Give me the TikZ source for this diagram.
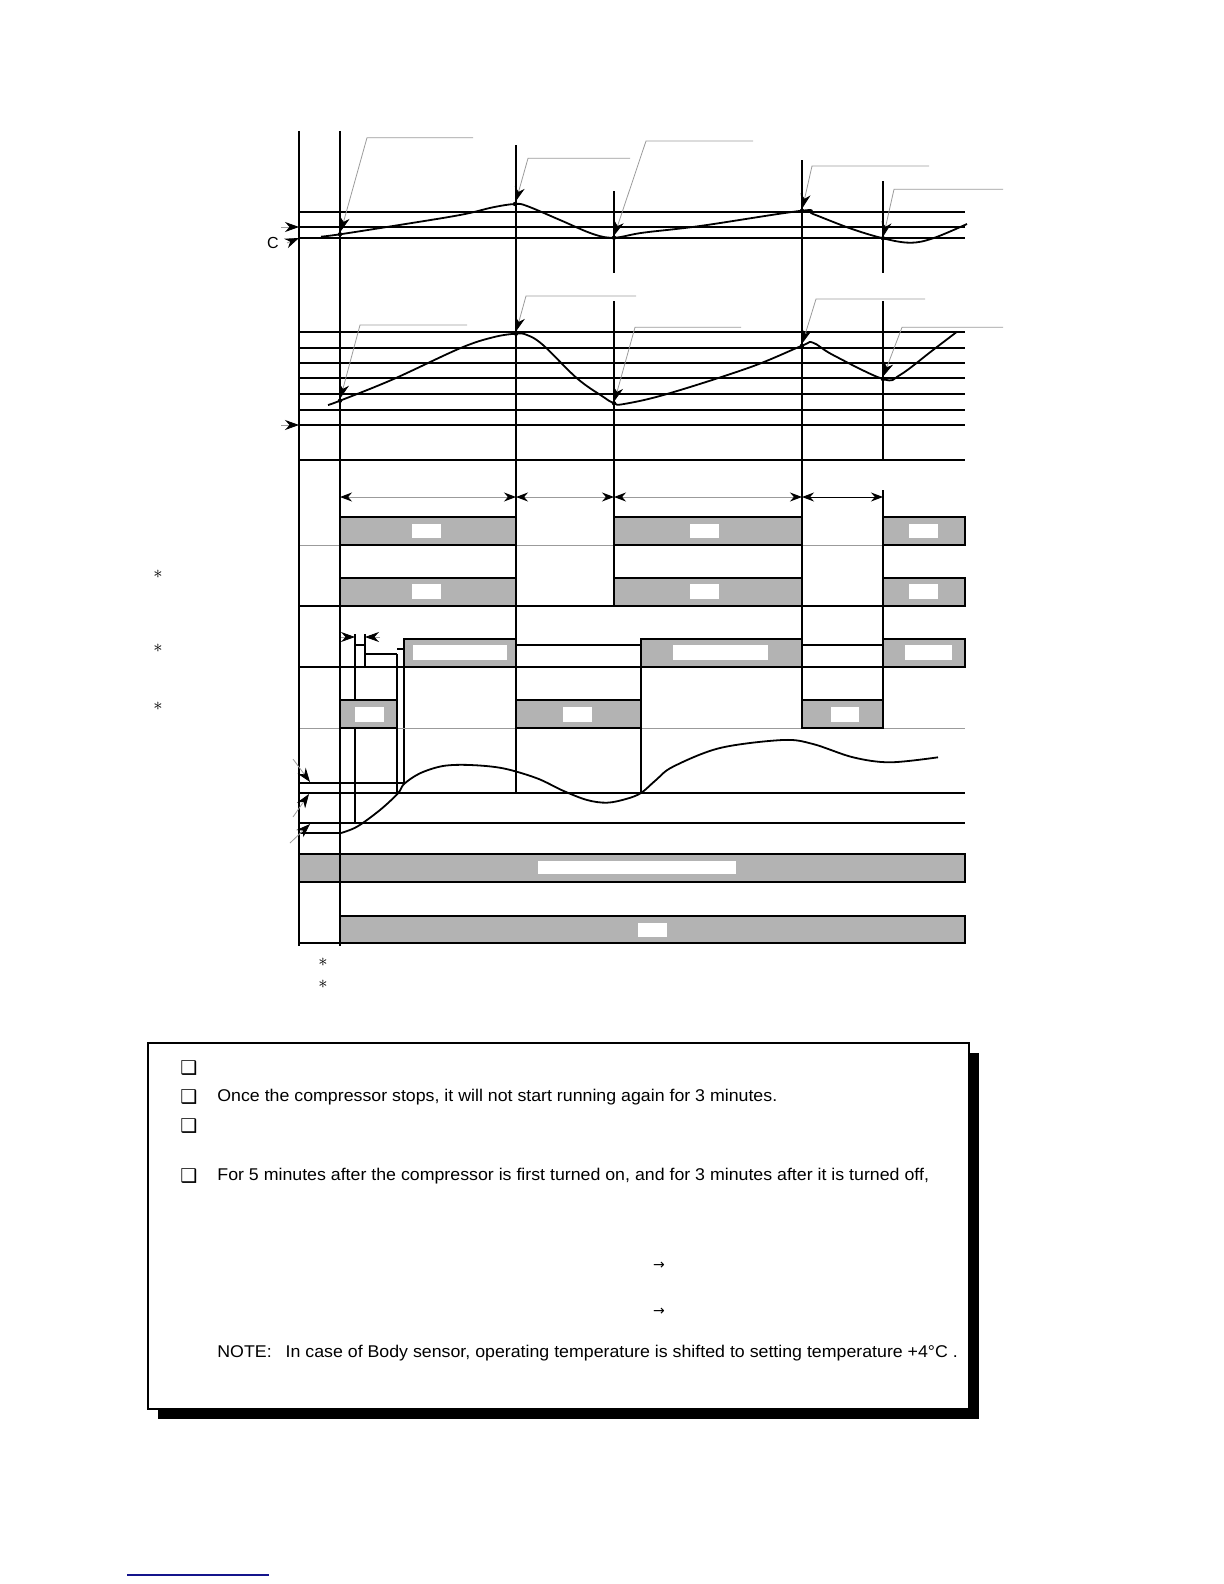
\documentclass[tikz,border=0pt]{standalone}
\usepackage{fontspec}
\setmainfont{Liberation Sans}
\newfontfamily\symfont{DejaVu Sans}
\newfontfamily\notefont[FakeStretch=1.045]{Liberation Sans}
\usetikzlibrary{arrows.meta}
\definecolor{barfill}{RGB}{179,179,179}
\definecolor{leadgray}{RGB}{155,155,155}
\definecolor{linkblue}{RGB}{20,20,140}
\tikzset{
  grid/.style={line width=0.6pt},
  curve/.style={line width=0.9pt},
  lead/.style={leadgray, line width=0.4pt, -{Stealth[length=7pt,width=5pt,color=black]}},
  span/.style={leadgray, line width=0.5pt, {Stealth[length=6pt,width=4.5pt,color=black]}-{Stealth[length=6pt,width=4.5pt,color=black]}},
  bar/.style={draw=black, fill=barfill, line width=0.6pt},
  hole/.style={fill=white},
  star/.style={inner sep=0pt, font=\fontsize{9.5}{9.5}\selectfont},
  txt/.style={anchor=west, inner sep=0pt, font=\notefont\fontsize{8.5}{10}\selectfont}
}
\begin{document}
\begin{tikzpicture}[x=0.5pt, y=-0.5pt, every node/.style={font=\fontsize{8}{10}\selectfont}]
  \useasboundingbox (0,0) rectangle (1224,1584);

  % time marks
  \draw[grid] (516,145) -- (516,793);
  \draw[grid] (614,191) -- (614,273) (614,301) -- (614,606);
  \draw[grid] (802,160) -- (802,728);
  \draw[grid] (883,181) -- (883,273) (883,301) -- (883,460) (883,490) -- (883,728);
  \draw[grid] (641,639) -- (641,793);
  \draw[grid] (355,634) -- (355,823) (365,634) -- (365,667);
  \draw[grid] (397,654) -- (397,793) (404,649) -- (404,783);

  % level lines
  \foreach \y in {212,227,238,332,348,363,378,394,410,425,460,606,667,793,823}
    \draw[grid] (299,\y) -- (965,\y);
  \foreach \y in {545,728}
    \draw[leadgray, line width=0.5pt] (299,\y) -- (965,\y);
  \draw[grid] (299,783) -- (404,783) (299,833) -- (340,833) (299,943) -- (340,943);
  \draw[grid] (355,645) -- (365,645) (365,654) -- (397,654) (397,649) -- (404,649);
  \draw[grid] (516,645) -- (641,645) (802,645) -- (883,645);

  % on/off bars
  \foreach \a/\b in {340/516,614/802,883/965} {
    \draw[bar] (\a,517) rectangle (\b,545);
    \draw[bar] (\a,578) rectangle (\b,606);
  }
  \foreach \a/\b in {404/516,641/802,883/965}
    \draw[bar] (\a,639) rectangle (\b,667);
  \foreach \a/\b in {340/397,516/641,802/883}
    \draw[bar] (\a,700) rectangle (\b,728);
  \draw[bar] (299,854) rectangle (965,882);
  \draw[bar] (340,916) rectangle (965,943);

  \foreach \a/\b in {412/441,690/719,909/938} {
    \fill[hole] (\a,524) rectangle (\b,538);
    \fill[hole] (\a,584) rectangle (\b,599);
  }
  \fill[hole] (413,645) rectangle (507,660);
  \fill[hole] (673,645) rectangle (768,660);
  \fill[hole] (905,645) rectangle (952,660);
  \foreach \a/\b in {355/384,563/592,831/859}
    \fill[hole] (\a,707) rectangle (\b,722);
  \fill[hole] (538,861) rectangle (736,874);
  \fill[hole] (638,923) rectangle (667,937);

  \draw[grid] (299,131) -- (299,946);
  \draw[grid] (340,131) -- (340,946);

  % intervals
  \draw[span] (340,497) -- (516,497);
  \draw[span] (516,497) -- (614,497);
  \draw[span] (614,497) -- (802,497);
  \draw[span, draw=black] (802,497) -- (883,497);
  \draw[lead] (341,637) -- (355,637);
  \draw[lead] (380,637) -- (365,637);

  % pointers on the left
  \draw[lead] (281,227) -- (299,227);
  \draw[lead] (287,243) -- (299,238);
  \draw[lead] (281,425) -- (299,425);
  \draw[lead] (293,759) -- (310,782);
  \draw[lead] (293,817) -- (309,794);
  \draw[lead] (290,843) -- (310,824);
  \node (c) at (273,243) {C};

  % room temperature
  \draw[curve] plot[smooth, tension=0.6] coordinates {
    (321,236.7) (340,234.3) (393,226) (460,215) (493,207.3) (515,204) (527,206)
    (560,220) (593,234) (614,237.7) (643,232.7) (700,226) (802,210.7) (813,214)
    (850,228.3) (883,238.3) (910,242.7) (933,238.3) (967,224)};
  \foreach \p in {(340,234.3),(515,204),(614,237.7),(802,210.7),(883,238.3)}
    \fill \p circle (2.2);

  % pipe temperature
  \draw[curve] plot[smooth, tension=0.6] coordinates {
    (328,405) (340,400.7) (393,379.3) (460,348.3) (493,337.3) (516,333.7) (527,335)
    (543,345) (577,378.3) (603,396.7) (614,403.3) (624,404) (667,394) (750,367.3)
    (802,345.7) (813,342.7) (833,355) (883,379) (900,375) (933,350) (957,331.7)};
  \foreach \p in {(340,400.7),(516,333.7),(614,403.3),(802,345.7),(883,379)}
    \fill \p circle (2.2);

  % discharge temperature
  \draw[curve] plot[smooth, tension=0.55] coordinates {
    (340,833.3) (357,826.7) (380,810) (398,793.3) (404,784) (420,773.3) (443,766)
    (470,765) (503,768.3) (537,778.3) (563,790.7) (587,800) (607,802.7) (626,799)
    (641,793) (656,780) (673,766.7) (720,748) (783,740) (813,744) (853,757.3)
    (890,762.3) (938,757.3)};

  % callouts
  \draw[lead] (473,137.7) -- (367,137.7) -- (341,231);
  \draw[lead] (630,158.3) -- (528,158.3) -- (516,201);
  \draw[lead] (753,141) -- (646,141) -- (614.5,235);
  \draw[lead] (929,166) -- (812,166) -- (802.5,208);
  \draw[lead] (1003,189.3) -- (894,189.3) -- (883.5,236);
  \draw[lead] (467,325) -- (360,325) -- (340.5,398);
  \draw[lead] (636,296) -- (526,296) -- (516.3,331);
  \draw[lead] (741,327.3) -- (635,327.3) -- (614.5,401);
  \draw[lead] (925,299) -- (816,299) -- (802.5,343);
  \draw[lead] (1003,327.3) -- (902,327.3) -- (883.5,376);

  % footnote marks
  \node[star] (s1) at (158,574) {$\ast$};
  \node[star] (s2) at (158,648) {$\ast$};
  \node[star] (s3) at (158,706) {$\ast$};
  \node[star] (s4) at (323,962) {$\ast$};
  \node[star] (s5) at (323,984) {$\ast$};

  % notes box
  \fill (158,1053) rectangle (979,1419);
  \draw[fill=white, line width=0.7pt] (148,1043) rectangle (969,1409);
  \foreach \y [count=\i] in {1068,1097,1126,1176}
    \node[anchor=west, inner sep=0pt] (box\i) at (180,\y) {\symfont\fontsize{9.5}{10}\selectfont ❑};
  \node[txt] (note2) at (217,1097) {Once the compressor stops, it will not start running again for 3 minutes.};
  \node[txt] (note4) at (217,1176) {For 5 minutes after the compressor is first turned on, and for 3 minutes after it is turned off,};
  \node (arr1) at (659,1266) {\symfont\fontsize{7}{8}\selectfont →};
  \node (arr2) at (659,1312) {\symfont\fontsize{7}{8}\selectfont →};
  \node[txt] (note5) at (217,1353) {NOTE:\hspace{7pt}In case of Body sensor, operating temperature is shifted to setting temperature +4°C .};

  \draw[linkblue, line width=0.8pt] (127,1575) -- (269,1575);
\end{tikzpicture}
\end{document}
